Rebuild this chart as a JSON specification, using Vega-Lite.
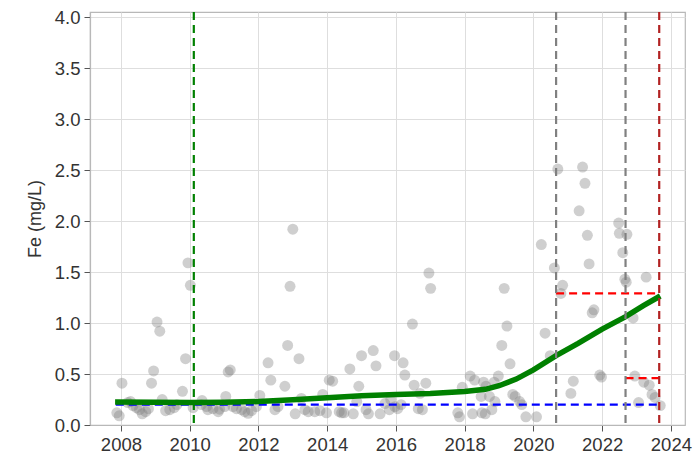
{
  "$schema": "https://vega.github.io/schema/vega-lite/v6.json",
  "width": 595,
  "height": 413,
  "autosize": {"type": "none"},
  "padding": {"left": 90, "top": 12, "right": 11, "bottom": 39},
  "background": "white",
  "config": {
    "view": {"stroke": "#b8b8b8", "strokeWidth": 1.2},
    "font": "Liberation Sans",
    "axis": {
      "labelFont": "Liberation Sans",
      "titleFont": "Liberation Sans",
      "labelFontSize": 18.5,
      "titleFontSize": 18,
      "labelColor": "#333333",
      "titleColor": "#333333",
      "titleFontWeight": "normal",
      "gridColor": "#dedede",
      "gridWidth": 1,
      "domainColor": "#b8b8b8",
      "domainWidth": 1.2,
      "tickColor": "#555555",
      "tickSize": 6,
      "labelPadding": 4
    }
  },
  "datasets": {
    "pts": [
      {"t": 2007.88, "fe": 0.12}, {"t": 2007.95, "fe": 0.09}, {"t": 2008.03, "fe": 0.41}, {"t": 2008.2, "fe": 0.22},
      {"t": 2008.28, "fe": 0.23}, {"t": 2008.35, "fe": 0.19}, {"t": 2008.45, "fe": 0.17}, {"t": 2008.54, "fe": 0.15},
      {"t": 2008.62, "fe": 0.11}, {"t": 2008.72, "fe": 0.13}, {"t": 2008.8, "fe": 0.16}, {"t": 2008.89, "fe": 0.41},
      {"t": 2008.95, "fe": 0.53}, {"t": 2009.05, "fe": 1.01}, {"t": 2009.13, "fe": 0.92}, {"t": 2009.2, "fe": 0.25},
      {"t": 2009.3, "fe": 0.14}, {"t": 2009.42, "fe": 0.15}, {"t": 2009.55, "fe": 0.17}, {"t": 2009.63, "fe": 0.2},
      {"t": 2009.79, "fe": 0.33}, {"t": 2009.88, "fe": 0.65}, {"t": 2009.95, "fe": 1.59}, {"t": 2010.02, "fe": 1.37},
      {"t": 2010.1, "fe": 0.17}, {"t": 2010.34, "fe": 0.2}, {"t": 2010.36, "fe": 0.24}, {"t": 2010.49, "fe": 0.18},
      {"t": 2010.53, "fe": 0.15}, {"t": 2010.68, "fe": 0.16}, {"t": 2010.83, "fe": 0.13}, {"t": 2010.87, "fe": 0.155},
      {"t": 2011.02, "fe": 0.18}, {"t": 2011.05, "fe": 0.28}, {"t": 2011.12, "fe": 0.52}, {"t": 2011.18, "fe": 0.54},
      {"t": 2011.26, "fe": 0.18}, {"t": 2011.36, "fe": 0.16}, {"t": 2011.51, "fe": 0.15}, {"t": 2011.6, "fe": 0.13},
      {"t": 2011.7, "fe": 0.115}, {"t": 2011.8, "fe": 0.14}, {"t": 2011.94, "fe": 0.18}, {"t": 2012.04, "fe": 0.29},
      {"t": 2012.28, "fe": 0.61}, {"t": 2012.36, "fe": 0.44}, {"t": 2012.48, "fe": 0.15}, {"t": 2012.57, "fe": 0.18},
      {"t": 2012.77, "fe": 0.38}, {"t": 2012.85, "fe": 0.78}, {"t": 2012.92, "fe": 1.36}, {"t": 2013.0, "fe": 1.92},
      {"t": 2013.07, "fe": 0.11}, {"t": 2013.18, "fe": 0.65}, {"t": 2013.25, "fe": 0.26}, {"t": 2013.35, "fe": 0.15},
      {"t": 2013.45, "fe": 0.13}, {"t": 2013.64, "fe": 0.13}, {"t": 2013.79, "fe": 0.14}, {"t": 2013.87, "fe": 0.3},
      {"t": 2013.98, "fe": 0.12}, {"t": 2014.06, "fe": 0.44}, {"t": 2014.16, "fe": 0.43}, {"t": 2014.35, "fe": 0.13},
      {"t": 2014.42, "fe": 0.12}, {"t": 2014.49, "fe": 0.12}, {"t": 2014.66, "fe": 0.55}, {"t": 2014.76, "fe": 0.11},
      {"t": 2014.86, "fe": 0.23}, {"t": 2014.92, "fe": 0.38}, {"t": 2015.0, "fe": 0.68}, {"t": 2015.13, "fe": 0.15},
      {"t": 2015.2, "fe": 0.11}, {"t": 2015.34, "fe": 0.73}, {"t": 2015.42, "fe": 0.58}, {"t": 2015.54, "fe": 0.11},
      {"t": 2015.68, "fe": 0.21}, {"t": 2015.81, "fe": 0.15}, {"t": 2015.85, "fe": 0.25}, {"t": 2015.96, "fe": 0.68},
      {"t": 2015.97, "fe": 0.18}, {"t": 2016.05, "fe": 0.16}, {"t": 2016.15, "fe": 0.2}, {"t": 2016.21, "fe": 0.61},
      {"t": 2016.26, "fe": 0.49}, {"t": 2016.48, "fe": 0.99}, {"t": 2016.53, "fe": 0.39}, {"t": 2016.65, "fe": 0.16},
      {"t": 2016.7, "fe": 0.31}, {"t": 2016.77, "fe": 0.15}, {"t": 2016.87, "fe": 0.41}, {"t": 2016.96, "fe": 1.49},
      {"t": 2017.01, "fe": 1.34}, {"t": 2017.8, "fe": 0.12}, {"t": 2017.85, "fe": 0.08}, {"t": 2017.93, "fe": 0.37},
      {"t": 2018.16, "fe": 0.48}, {"t": 2018.23, "fe": 0.11}, {"t": 2018.29, "fe": 0.44}, {"t": 2018.48, "fe": 0.28},
      {"t": 2018.5, "fe": 0.12}, {"t": 2018.55, "fe": 0.42}, {"t": 2018.6, "fe": 0.11}, {"t": 2018.62, "fe": 0.38},
      {"t": 2018.72, "fe": 0.28}, {"t": 2018.79, "fe": 0.15}, {"t": 2018.86, "fe": 0.42}, {"t": 2018.88, "fe": 0.23},
      {"t": 2018.98, "fe": 0.48}, {"t": 2019.08, "fe": 0.78}, {"t": 2019.15, "fe": 1.34}, {"t": 2019.23, "fe": 0.97},
      {"t": 2019.32, "fe": 0.6}, {"t": 2019.4, "fe": 0.3}, {"t": 2019.47, "fe": 0.28}, {"t": 2019.6, "fe": 0.23},
      {"t": 2019.66, "fe": 0.2}, {"t": 2019.78, "fe": 0.08}, {"t": 2020.09, "fe": 0.08}, {"t": 2020.23, "fe": 1.77},
      {"t": 2020.34, "fe": 0.9}, {"t": 2020.49, "fe": 0.68}, {"t": 2020.61, "fe": 1.54}, {"t": 2020.71, "fe": 2.51},
      {"t": 2020.8, "fe": 1.29}, {"t": 2020.85, "fe": 1.37}, {"t": 2021.09, "fe": 0.31}, {"t": 2021.16, "fe": 0.43},
      {"t": 2021.33, "fe": 2.1}, {"t": 2021.43, "fe": 2.53}, {"t": 2021.5, "fe": 2.37}, {"t": 2021.57, "fe": 1.86},
      {"t": 2021.62, "fe": 1.58}, {"t": 2021.71, "fe": 1.1}, {"t": 2021.76, "fe": 1.13}, {"t": 2021.93, "fe": 0.49},
      {"t": 2021.98, "fe": 0.47}, {"t": 2022.48, "fe": 1.98}, {"t": 2022.5, "fe": 1.88}, {"t": 2022.6, "fe": 1.69},
      {"t": 2022.66, "fe": 1.43}, {"t": 2022.7, "fe": 1.4}, {"t": 2022.72, "fe": 1.87}, {"t": 2022.9, "fe": 1.05},
      {"t": 2022.95, "fe": 0.48}, {"t": 2023.06, "fe": 0.22}, {"t": 2023.21, "fe": 0.42}, {"t": 2023.28, "fe": 1.45},
      {"t": 2023.37, "fe": 0.39}, {"t": 2023.45, "fe": 0.3}, {"t": 2023.54, "fe": 0.27}, {"t": 2023.69, "fe": 0.19}
    ],
    "trend": [
      {"t": 2007.83, "fe": 0.225}, {"t": 2009.0, "fe": 0.222}, {"t": 2010.0, "fe": 0.22}, {"t": 2011.0, "fe": 0.222},
      {"t": 2012.0, "fe": 0.23}, {"t": 2013.0, "fe": 0.248}, {"t": 2014.0, "fe": 0.268}, {"t": 2015.0, "fe": 0.288},
      {"t": 2016.0, "fe": 0.3}, {"t": 2017.0, "fe": 0.31}, {"t": 2018.0, "fe": 0.328}, {"t": 2018.6, "fe": 0.35},
      {"t": 2019.0, "fe": 0.385}, {"t": 2019.5, "fe": 0.45}, {"t": 2020.0, "fe": 0.54}, {"t": 2020.66, "fe": 0.68},
      {"t": 2021.3, "fe": 0.8}, {"t": 2022.0, "fe": 0.94}, {"t": 2022.67, "fe": 1.06}, {"t": 2023.2, "fe": 1.17},
      {"t": 2023.69, "fe": 1.265}
    ],
    "vlines": [
      {"t": 2010.12, "c": "green"}, {"t": 2020.66, "c": "grey"}, {"t": 2022.68, "c": "grey"}, {"t": 2023.66, "c": "red"}
    ],
    "hlines": [
      {"t1": 2007.85, "t2": 2023.66, "fe": 0.2, "c": "blue"},
      {"t1": 2020.66, "t2": 2023.66, "fe": 1.29, "c": "red"},
      {"t1": 2022.68, "t2": 2023.66, "fe": 0.46, "c": "red"}
    ]
  },
  "layer": [
    {
      "data": {"name": "pts"},
      "mark": {"type": "circle", "size": 120, "color": "#808080", "opacity": 0.38},
      "encoding": {
        "x": {
          "field": "t", "type": "quantitative",
          "scale": {"domain": [2007.1, 2024.41], "nice": false, "zero": false},
          "axis": {"values": [2008, 2010, 2012, 2014, 2016, 2018, 2020, 2022, 2024], "format": "d", "title": null, "grid": true, "ticks": true}
        },
        "y": {
          "field": "fe", "type": "quantitative",
          "scale": {"domain": [0, 4.05], "nice": false},
          "axis": {"values": [0, 0.5, 1, 1.5, 2, 2.5, 3, 3.5, 4], "format": ".1f", "title": "Fe (mg/L)", "titlePadding": 10, "grid": true, "ticks": true}
        }
      }
    },
    {
      "data": {"name": "hlines"},
      "mark": {"type": "rule", "strokeWidth": 2.2, "strokeDash": [8, 5]},
      "encoding": {
        "x": {"field": "t1", "type": "quantitative"},
        "x2": {"field": "t2"},
        "y": {"field": "fe", "type": "quantitative"},
        "color": {"field": "c", "type": "nominal", "scale": {"domain": ["blue", "red"], "range": ["#0000ff", "#ff0000"]}, "legend": null}
      }
    },
    {
      "data": {"name": "trend"},
      "mark": {"type": "line", "color": "#008000", "strokeWidth": 5.5, "strokeCap": "butt"},
      "encoding": {
        "x": {"field": "t", "type": "quantitative"},
        "y": {"field": "fe", "type": "quantitative"}
      }
    },
    {
      "data": {"name": "vlines"},
      "mark": {"type": "rule", "strokeWidth": 2.2, "strokeDash": [8, 5]},
      "encoding": {
        "x": {"field": "t", "type": "quantitative"},
        "stroke": {"field": "c", "type": "nominal", "scale": {"domain": ["green", "grey", "red"], "range": ["#008000", "#808080", "#b22222"]}, "legend": null}
      }
    }
  ]
}
